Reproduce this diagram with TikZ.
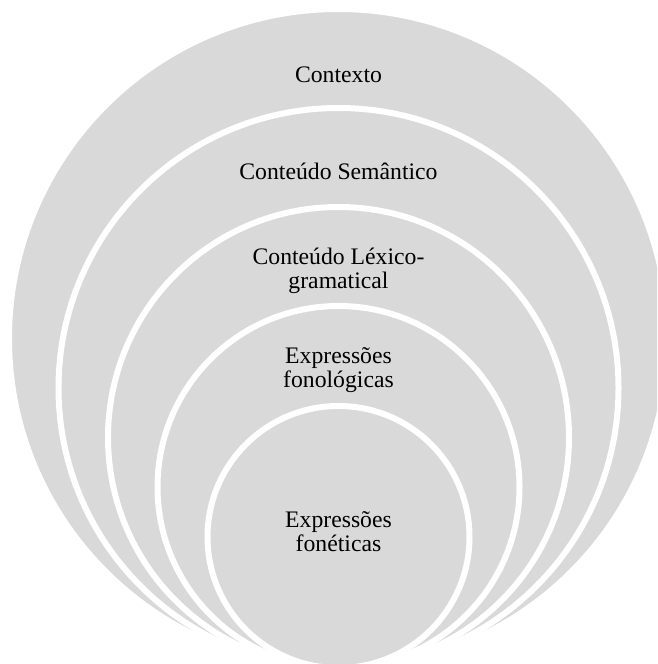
\documentclass[tikz,border=0pt]{standalone}
\usepackage{fontspec}
\setmainfont{Liberation Serif}
\definecolor{ringgrey}{RGB}{217,217,217}
\begin{document}
\begin{tikzpicture}[x=1pt,y=-1pt,
  ring/.style={circle, fill=ringgrey, draw=white, line width=6pt, inner sep=0pt, outer sep=0pt},
  lbl/.style={font=\fontsize{23.7}{24}\selectfont, align=center, anchor=base, inner sep=0pt, text=black}]
\useasboundingbox (0,0) rectangle (657,664);
\begin{scope}
\clip (0,0) rectangle (657,664);
\node[ring, minimum size=659pt] (c1) at (338.5,338.5) {};
\node[ring, minimum size=560pt] (c2) at (338.5,388) {};
\node[ring, minimum size=461pt] (c3) at (338.5,437.5) {};
\node[ring, minimum size=362pt] (c4) at (338.5,487) {};
\node[ring, minimum size=262pt] (c5) at (338.5,537) {};
\end{scope}
\node[lbl] (t1) at (338.5,82) {Contexto};
\node[lbl] (t2) at (338.5,179) {Conteúdo Semântico};
\node[lbl] (t3) at (338.5,288.5) {Conteúdo Léxico-\\gramatical};
\node[lbl] (t4) at (338.5,387.5) {Expressões\\fonológicas};
\node[lbl] (t5) at (338.5,551.5) {Expressões\\fonéticas};
\end{tikzpicture}
\end{document}
